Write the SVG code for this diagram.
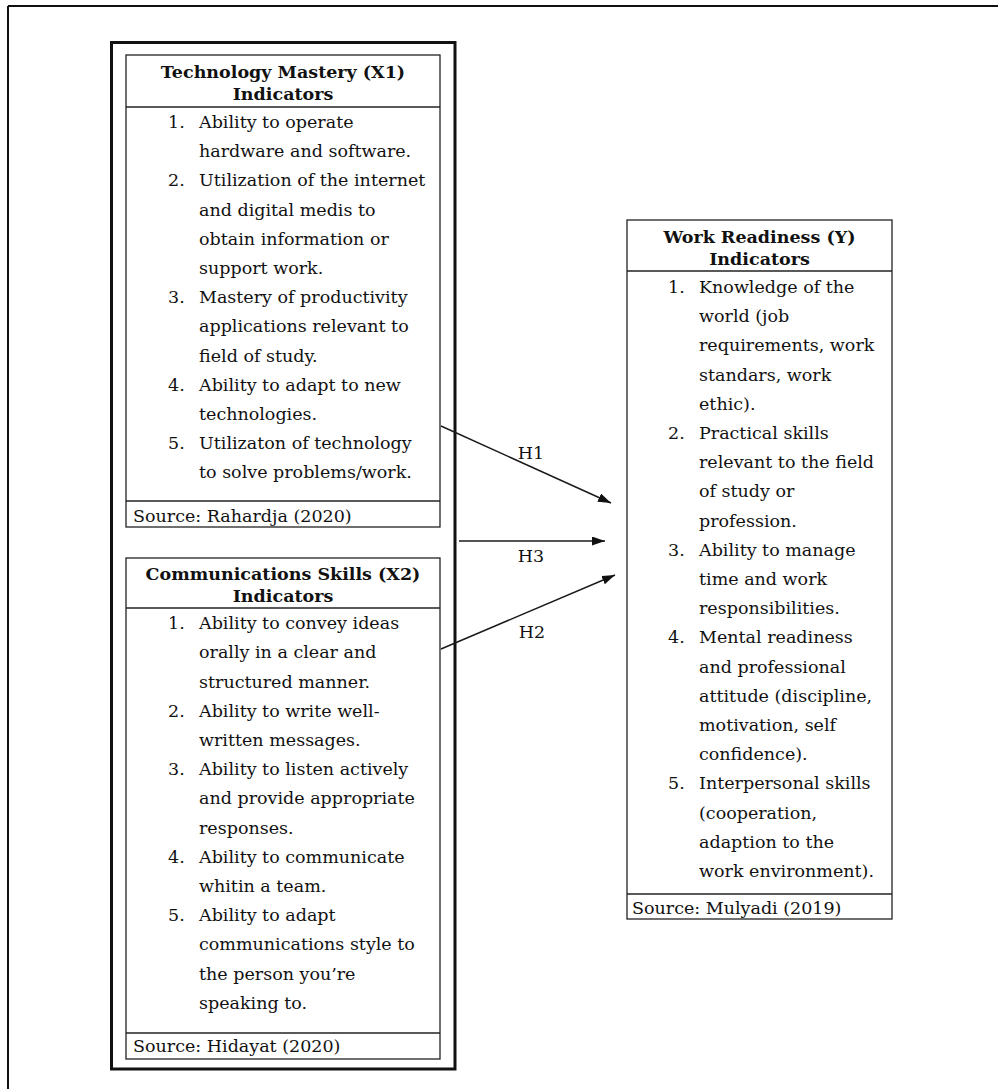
<svg xmlns="http://www.w3.org/2000/svg" width="998" height="1089" viewBox="0 0 998 1089">
<style>
text{font-family:"DejaVu Serif","Liberation Serif",serif;font-size:17.5px;fill:#111}
.h{font-weight:bold;text-anchor:middle}
.c{text-anchor:middle}
.box{fill:#fff;stroke:#222;stroke-width:1.3}
.ln{stroke:#222;stroke-width:1.3}
.con{stroke:#1a1a1a;stroke-width:1.5;fill:none}
</style>
<defs>
<marker id="ah" markerUnits="userSpaceOnUse" markerWidth="14" markerHeight="10" refX="13" refY="4.5" orient="auto">
<path d="M0,0 L13,4.5 L0,9 z" fill="#111"/>
</marker>
</defs>
<rect width="998" height="1089" fill="#fff"/>
<g id="frame">
<line x1="8" y1="6" x2="998" y2="6" stroke="#111" stroke-width="2"/>
<line x1="8" y1="6" x2="8" y2="1089" stroke="#111" stroke-width="2"/>
</g>
<g id="group-x">
<rect x="111.5" y="42.5" width="343.5" height="1026.5" fill="none" stroke="#111" stroke-width="3"/>
</g>
<g id="tech">
<rect class="box" x="126" y="55" width="314" height="472"/>
<line class="ln" x1="126" y1="107" x2="440" y2="107"/>
<line class="ln" x1="126" y1="501" x2="440" y2="501"/>
<text class="h" x="283" y="78">Technology Mastery (X1)</text>
<text class="h" x="283" y="100">Indicators</text>
<text x="168" y="128">1.</text><text x="199" y="128">Ability to operate</text>
<text x="199" y="157">hardware and software.</text>
<text x="168" y="186">2.</text><text x="199" y="186">Utilization of the internet</text>
<text x="199" y="215.5">and digital medis to</text>
<text x="199" y="244.5">obtain information or</text>
<text x="199" y="274">support work.</text>
<text x="168" y="303">3.</text><text x="199" y="303">Mastery of productivity</text>
<text x="199" y="332">applications relevant to</text>
<text x="199" y="361.5">field of study.</text>
<text x="168" y="390.5">4.</text><text x="199" y="390.5">Ability to adapt to new</text>
<text x="199" y="420">technologies.</text>
<text x="168" y="449">5.</text><text x="199" y="449">Utilizaton of technology</text>
<text x="199" y="478">to solve problems/work.</text>
<text x="133" y="522">Source: Rahardja (2020)</text>
</g>
<g id="comm">
<rect class="box" x="126" y="558" width="314" height="501"/>
<line class="ln" x1="126" y1="608" x2="440" y2="608"/>
<line class="ln" x1="126" y1="1033" x2="440" y2="1033"/>
<text class="h" x="283" y="580">Communications Skills (X2)</text>
<text class="h" x="283" y="602">Indicators</text>
<text x="168" y="629">1.</text><text x="199" y="629">Ability to convey ideas</text>
<text x="199" y="658">orally in a clear and</text>
<text x="199" y="687.5">structured manner.</text>
<text x="168" y="716.5">2.</text><text x="199" y="716.5">Ability to write well-</text>
<text x="199" y="746">written messages.</text>
<text x="168" y="775">3.</text><text x="199" y="775">Ability to listen actively</text>
<text x="199" y="804">and provide appropriate</text>
<text x="199" y="833.5">responses.</text>
<text x="168" y="862.5">4.</text><text x="199" y="862.5">Ability to communicate</text>
<text x="199" y="892">whitin a team.</text>
<text x="168" y="921">5.</text><text x="199" y="921">Ability to adapt</text>
<text x="199" y="950">communications style to</text>
<text x="199" y="979.5">the person you’re</text>
<text x="199" y="1008.5">speaking to.</text>
<text x="133" y="1052">Source: Hidayat (2020)</text>
</g>
<g id="work">
<rect class="box" x="627" y="220" width="265" height="699"/>
<line class="ln" x1="627" y1="271" x2="892" y2="271"/>
<line class="ln" x1="627" y1="894" x2="892" y2="894"/>
<text class="h" x="759.5" y="243">Work Readiness (Y)</text>
<text class="h" x="759.5" y="265">Indicators</text>
<text x="668" y="293">1.</text><text x="699" y="293">Knowledge of the</text>
<text x="699" y="322">world (job</text>
<text x="699" y="351">requirements, work</text>
<text x="699" y="380.5">standars, work</text>
<text x="699" y="409.5">ethic).</text>
<text x="668" y="439">2.</text><text x="699" y="439">Practical skills</text>
<text x="699" y="468">relevant to the field</text>
<text x="699" y="497">of study or</text>
<text x="699" y="526.5">profession.</text>
<text x="668" y="556">3.</text><text x="699" y="556">Ability to manage</text>
<text x="699" y="585">time and work</text>
<text x="699" y="614">responsibilities.</text>
<text x="668" y="643">4.</text><text x="699" y="643">Mental readiness</text>
<text x="699" y="672.5">and professional</text>
<text x="699" y="701.5">attitude (discipline,</text>
<text x="699" y="731">motivation, self</text>
<text x="699" y="760">confidence).</text>
<text x="668" y="789">5.</text><text x="699" y="789">Interpersonal skills</text>
<text x="699" y="818.5">(cooperation,</text>
<text x="699" y="847.5">adaption to the</text>
<text x="699" y="877">work environment).</text>
<text x="632" y="914">Source: Mulyadi (2019)</text>
</g>
<g id="connectors">
<line class="con" x1="441" y1="426" x2="611" y2="503" marker-end="url(#ah)"/>
<line class="con" x1="459" y1="541" x2="605" y2="541" stroke-width="2.5" marker-end="url(#ah)"/>
<line class="con" x1="441" y1="649" x2="615" y2="575" marker-end="url(#ah)"/>
<text class="c" x="531" y="459">H1</text>
<text class="c" x="531" y="562">H3</text>
<text class="c" x="532" y="638">H2</text>
</g>
</svg>
